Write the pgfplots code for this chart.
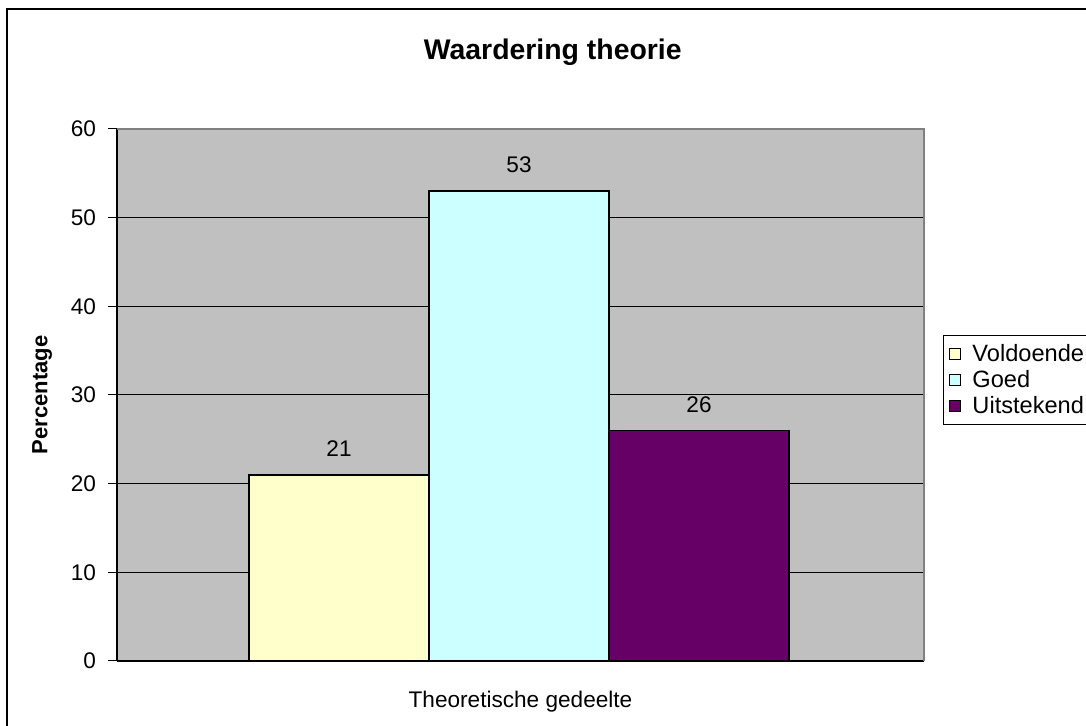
\documentclass[border=0pt]{standalone}
\usepackage{pgfplots}
\pgfplotsset{compat=1.18}
\usepackage{fontspec}
\setmainfont{Liberation Sans}
\definecolor{plotbg}{HTML}{C0C0C0}
\definecolor{cVol}{HTML}{FFFFCC}
\definecolor{cGoed}{HTML}{CCFFFF}
\definecolor{cUit}{HTML}{660066}
\begin{document}
\begin{tikzpicture}
\useasboundingbox (-58.5pt,-32.5pt) rectangle (484.5pt,330.5pt);
\begin{axis}[
  at={(0,0)}, anchor=south west,
  scale only axis,
  width=403.5pt, height=266pt,
  xmin=-403.5, xmax=403.5,
  ymin=0, ymax=60,
  ytick={0,10,...,60},
  xtick={0},
  xticklabels={Theoretische gedeelte},
  extra x ticks={-403.5,403.5},
  extra x tick labels={},
  extra x tick style={major tick length=4pt, tick align=outside, major tick style={black, line width=0.5pt}},
  x tick style={draw=none},
  y tick style={black, line width=0.5pt},
  major tick length=4.5pt,
  tick align=outside,
  axis x line*=bottom,
  axis y line*=left,
  axis line style={black, line width=0.6pt, -},
  axis background/.style={fill=plotbg},
  ymajorgrids,
  grid style={black, line width=0.5pt},
  ybar, bar width=90pt, bar shift=0pt,
  tick label style={font=\fontsize{11.3}{13}\selectfont},
  /pgf/number format/assume math mode=true,
  xticklabel style={yshift=-7pt},
  yticklabel style={xshift=-2.5pt},
  title={Waardering theorie},
  every axis title/.style={at={(axis description cs:0.540,1.1447)}, anchor=center, font=\fontsize{14.2}{16}\selectfont\bfseries},
  ylabel={Percentage},
  every axis y label/.style={at={(axis description cs:-0.0929,0.5)}, anchor=center, rotate=90, font=\fontsize{11}{13}\selectfont\bfseries},
  nodes near coords,
  every node near coord/.append style={font=\fontsize{11.3}{13}\selectfont, anchor=center, yshift=13pt, black},
  legend style={at={(axis description cs:1.0235,0.612)}, anchor=north west, draw=black, line width=0.5pt, fill=white, font=\fontsize{11.8}{13}\selectfont, inner xsep=3pt, inner ysep=2pt, row sep=-1pt, cells={anchor=west}, nodes={inner xsep=5.5pt}},
  legend image code/.code={\draw[#1, draw=black, line width=0.5pt] (2.5pt,-2.75pt) rectangle (8pt,2.75pt);},
  after end axis/.code={\draw[gray, line width=0.6pt] (rel axis cs:0,1) -- (rel axis cs:1,1) -- (rel axis cs:1,0);},
]
\addplot[fill=cVol, draw=black, line width=0.8pt] coordinates {(-181.5,21)};
\addlegendentry{Voldoende}
\addplot[fill=cGoed, draw=black, line width=0.8pt] coordinates {(-1.5,53)};
\addlegendentry{Goed}
\addplot[fill=cUit, draw=black, line width=0.8pt] coordinates {(178.5,26)};
\addlegendentry{Uitstekend}
\end{axis}
\draw[black, line width=1.2pt] (-55pt,-40pt) -- (-55pt,326pt) -- (500pt,326pt);
\end{tikzpicture}
\end{document}
